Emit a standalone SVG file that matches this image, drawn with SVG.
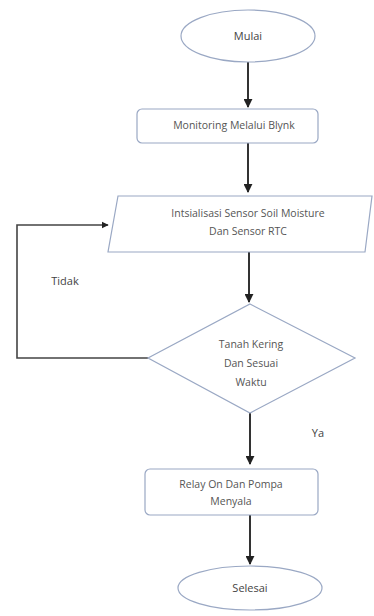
<svg xmlns="http://www.w3.org/2000/svg" width="374" height="616" viewBox="0 0 374 616">
<defs>
<marker id="ah" viewBox="0 0 10 10" refX="9" refY="5" markerWidth="4.5" markerHeight="4.5" orient="auto" markerUnits="strokeWidth">
<path d="M0,0 L10,5 L0,10 z" fill="#222"/>
</marker>
<style>
.shape{fill:#fff;stroke:#9aa8c4;stroke-width:1.2}
.t{font-family:"Open Sans","Liberation Sans",sans-serif;font-size:10.5px;fill:#555;text-anchor:middle}
.lbl{font-family:"Open Sans","Liberation Sans",sans-serif;font-size:11px;fill:#444;text-anchor:middle}
.c{fill:none;stroke:#333;stroke-width:2}
.fb{fill:none;stroke:#444;stroke-width:1.6}
</style>
</defs>
<rect width="374" height="616" fill="#fff"/>
<g id="connectors">
<line class="c" x1="248" y1="62" x2="248" y2="107" marker-end="url(#ah)"/>
<line class="c" x1="248" y1="143" x2="248" y2="192" marker-end="url(#ah)"/>
<line class="c" x1="249" y1="252" x2="249" y2="302" marker-end="url(#ah)"/>
<polyline class="fb" points="148,358 17,358 17,225 108,225" marker-end="url(#ah)"/>
<line class="c" x1="250" y1="413" x2="250" y2="464" marker-end="url(#ah)"/>
<line class="c" x1="250" y1="515" x2="250" y2="564" marker-end="url(#ah)"/>
<text class="lbl" x="65" y="285">Tidak</text>
<text class="lbl" x="318" y="437">Ya</text>
</g>
<g id="mulai">
<ellipse class="shape" cx="248" cy="36" rx="67" ry="26"/>
<text class="lbl" x="248" y="40">Mulai</text>
</g>
<g id="monitoring">
<rect class="shape" x="137" y="109" width="181" height="34" rx="5"/>
<text class="t" x="234" y="129">Monitoring Melalui Blynk</text>
</g>
<g id="inisialisasi">
<polygon class="shape" points="118,196 372,196 365,252 108,252"/>
<text class="t" x="248" y="217">Intsialisasi Sensor Soil Moisture</text>
<text class="t" x="248" y="235">Dan Sensor RTC</text>
</g>
<g id="keputusan">
<polygon class="shape" points="250,304 355,358 250,413 148,358"/>
<text class="t" x="251" y="348">Tanah Kering</text>
<text class="t" x="251" y="367">Dan Sesuai</text>
<text class="t" x="251" y="386">Waktu</text>
</g>
<g id="relay">
<rect class="shape" x="145" y="469" width="173" height="46" rx="5"/>
<text class="t" x="231" y="488">Relay On Dan Pompa</text>
<text class="t" x="231" y="505">Menyala</text>
</g>
<g id="selesai">
<ellipse class="shape" cx="250" cy="588" rx="72" ry="22"/>
<text class="lbl" x="250" y="592">Selesai</text>
</g>
</svg>
